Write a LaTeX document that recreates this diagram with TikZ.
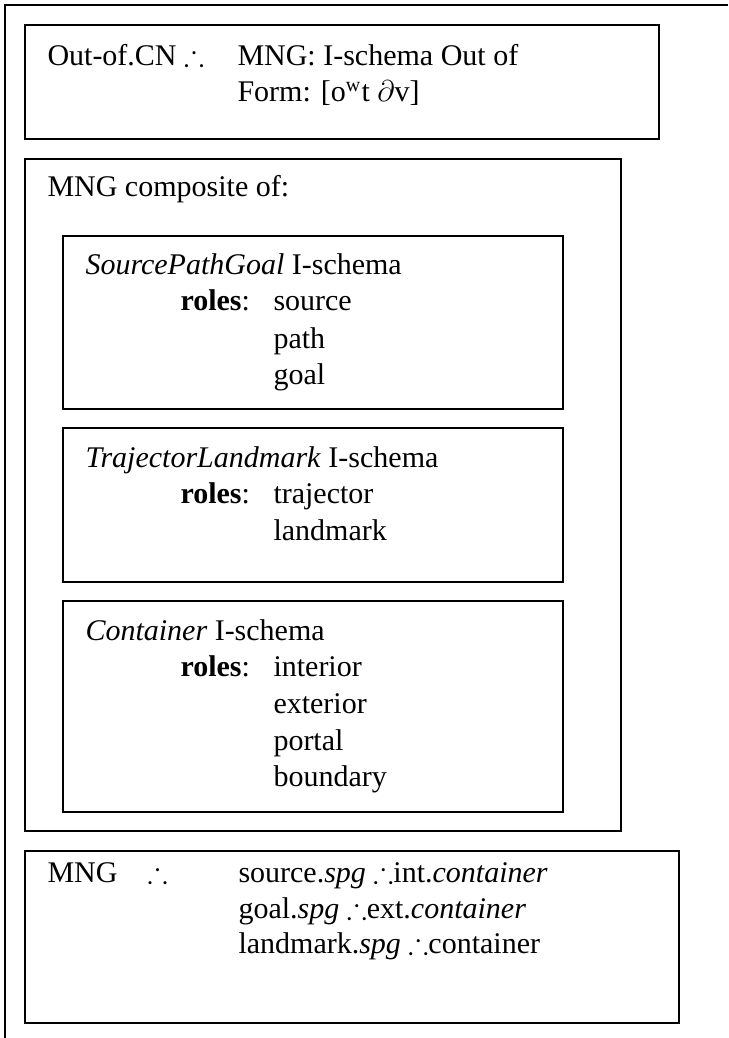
\documentclass[tikz,border=0pt]{standalone}
\usepackage{fontspec}
\usepackage{amsmath, amssymb}
\usepackage{tikz}
\setmainfont{Liberation Serif}
\newcommand{\thf}{\ensuremath{\therefore}}

\begin{document}
\begin{tikzpicture}[x=0.4pt, y=-0.4pt, font=\fontsize{12}{13.8}\selectfont,
    frame/.style={draw, line width=0.8pt},
    txt/.style={anchor=base west, inner sep=0pt}]
    \useasboundingbox (0,0) rectangle (728,1038);
    \draw[line width=0.6pt] (5,1038) -- (5,5) -- (728,5);
    % construction header
    \draw[frame] (25,25) rectangle (659,139);
    \node[txt] (cn) at (47,66) {Out-of.CN \thf};
    \node[txt] (cnmng) at (237,66) {MNG: I-schema Out of};
    \node[txt] (cnform) at (237,102) {Form: [o\textsuperscript{w}t $\partial$v]};
    % meaning composite
    \draw[frame] (25,159) rectangle (621,831);
    \node[txt] (comp) at (47,197) {MNG composite of:};
    \draw[frame] (63,236) rectangle (563,409);
    \node[txt] (spg) at (85,275) {\textit{SourcePathGoal} I-schema};
    \node[txt] (spgroles) at (180,311) {\textbf{roles}:};
    \node[txt] (spgsource) at (273,311) {source};
    \node[txt] (spgpath) at (273,348) {path};
    \node[txt] (spggoal) at (273,384) {goal};
    \draw[frame] (63,428) rectangle (563,582);
    \node[txt] (tl) at (85,467) {\textit{TrajectorLandmark} I-schema};
    \node[txt] (tlroles) at (180,503) {\textbf{roles}:};
    \node[txt] (tltraj) at (273,503) {trajector};
    \node[txt] (tlland) at (273,540) {landmark};
    \draw[frame] (63,601) rectangle (563,812);
    \node[txt] (cont) at (85,640) {\textit{Container} I-schema};
    \node[txt] (controles) at (180,676) {\textbf{roles}:};
    \node[txt] (contint) at (273,676) {interior};
    \node[txt] (context) at (273,713) {exterior};
    \node[txt] (contport) at (273,750) {portal};
    \node[txt] (contbound) at (273,786) {boundary};
    % bindings
    \draw[frame] (25,851) rectangle (679,1023);
    \node[txt] (bmng) at (47,882) {MNG};
    \node[txt] (bthf) at (147,882) {\thf};
    \node[txt] (bsrc) at (238,882) {source.\textit{spg} \thf int.\textit{container}};
    \node[txt] (bgoal) at (238,918) {goal.\textit{spg} \thf ext.\textit{container}};
    \node[txt] (bland) at (238,953) {landmark.\textit{spg} \thf container};
\end{tikzpicture}
\end{document}
